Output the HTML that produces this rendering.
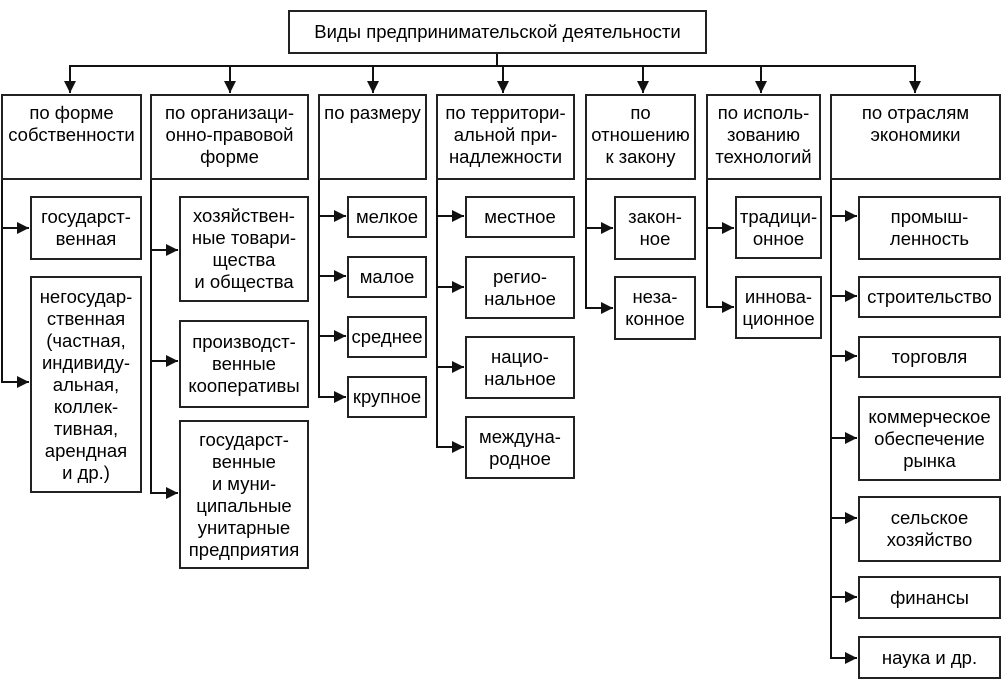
<!DOCTYPE html>
<html><head><meta charset="utf-8"><style>
body{margin:0;background:#fff;width:1002px;height:680px;overflow:hidden;position:relative;font-family:"Liberation Sans",Arial,sans-serif;color:#000}
.b{position:absolute;box-sizing:border-box;border:2px solid #222;display:flex;align-items:center;justify-content:center;text-align:center;font-size:18.5px;line-height:22px;background:#fff;white-space:nowrap}
.h{align-items:flex-start;padding-top:6px}
svg{position:absolute;left:0;top:0}
</style></head><body>
<svg width="1002" height="680">
<defs><marker id="a" markerWidth="13" markerHeight="13" refX="12" refY="6" orient="auto" markerUnits="userSpaceOnUse"><path d="M0,0 L12,6 L0,12 z" fill="#111"/></marker></defs>
<g stroke="#111" stroke-width="2" fill="none">
<line x1="497" y1="53" x2="497" y2="66"/>
<line x1="69" y1="66" x2="916" y2="66"/>
<line x1="70" y1="66" x2="70" y2="93" marker-end="url(#a)"/>
<line x1="230" y1="66" x2="230" y2="93" marker-end="url(#a)"/>
<line x1="373" y1="66" x2="373" y2="93" marker-end="url(#a)"/>
<line x1="503" y1="66" x2="503" y2="93" marker-end="url(#a)"/>
<line x1="643" y1="66" x2="643" y2="93" marker-end="url(#a)"/>
<line x1="761" y1="66" x2="761" y2="93" marker-end="url(#a)"/>
<line x1="915" y1="66" x2="915" y2="93" marker-end="url(#a)"/>
<polyline points="2,179 2,382 29,382" marker-end="url(#a)"/>
<line x1="2" y1="228" x2="29" y2="228" marker-end="url(#a)"/>
<polyline points="151,179 151,493 178,493" marker-end="url(#a)"/>
<line x1="151" y1="250" x2="178" y2="250" marker-end="url(#a)"/>
<line x1="151" y1="361" x2="178" y2="361" marker-end="url(#a)"/>
<polyline points="319,179 319,397 346,397" marker-end="url(#a)"/>
<line x1="319" y1="216" x2="346" y2="216" marker-end="url(#a)"/>
<line x1="319" y1="276" x2="346" y2="276" marker-end="url(#a)"/>
<line x1="319" y1="336" x2="346" y2="336" marker-end="url(#a)"/>
<polyline points="437,179 437,447 464,447" marker-end="url(#a)"/>
<line x1="437" y1="216" x2="464" y2="216" marker-end="url(#a)"/>
<line x1="437" y1="287" x2="464" y2="287" marker-end="url(#a)"/>
<line x1="437" y1="367" x2="464" y2="367" marker-end="url(#a)"/>
<polyline points="586,179 586,308 613,308" marker-end="url(#a)"/>
<line x1="586" y1="228" x2="613" y2="228" marker-end="url(#a)"/>
<polyline points="707,179 707,307 734,307" marker-end="url(#a)"/>
<line x1="707" y1="228" x2="734" y2="228" marker-end="url(#a)"/>
<polyline points="831,179 831,658 857,658" marker-end="url(#a)"/>
<line x1="831" y1="216" x2="857" y2="216" marker-end="url(#a)"/>
<line x1="831" y1="296" x2="857" y2="296" marker-end="url(#a)"/>
<line x1="831" y1="356" x2="857" y2="356" marker-end="url(#a)"/>
<line x1="831" y1="438" x2="857" y2="438" marker-end="url(#a)"/>
<line x1="831" y1="518" x2="857" y2="518" marker-end="url(#a)"/>
<line x1="831" y1="597" x2="857" y2="597" marker-end="url(#a)"/>
</g></svg>

<div class="b" style="left:288px;top:10px;width:419px;height:44px">Виды предпринимательской деятельности</div>

<div class="b h" style="left:1px;top:94px;width:141px;height:86px">по форме<br>собственности</div>
<div class="b h" style="left:150px;top:94px;width:159px;height:86px">по организаци-<br>онно-правовой<br>форме</div>
<div class="b h" style="left:318px;top:94px;width:109px;height:86px">по размеру</div>
<div class="b h" style="left:436px;top:94px;width:139px;height:86px">по территори-<br>альной при-<br>надлежности</div>
<div class="b h" style="left:585px;top:94px;width:111px;height:86px">по<br>отношению<br>к закону</div>
<div class="b h" style="left:706px;top:94px;width:115px;height:86px">по исполь-<br>зованию<br>технологий</div>
<div class="b h" style="left:830px;top:94px;width:171px;height:86px">по отраслям<br>экономики</div>

<div class="b" style="left:30px;top:196px;width:112px;height:64px">государст-<br>венная</div>
<div class="b" style="left:30px;top:276px;width:112px;height:217px">негосудар-<br>ственная<br>(частная,<br>индивиду-<br>альная,<br>коллек-<br>тивная,<br>арендная<br>и др.)</div>

<div class="b" style="left:179px;top:196px;width:130px;height:106px">хозяйствен-<br>ные товари-<br>щества<br>и общества</div>
<div class="b" style="left:179px;top:320px;width:130px;height:88px">производст-<br>венные<br>кооперативы</div>
<div class="b" style="left:179px;top:420px;width:130px;height:149px">государст-<br>венные<br>и муни-<br>ципальные<br>унитарные<br>предприятия</div>

<div class="b" style="left:347px;top:196px;width:80px;height:42px">мелкое</div>
<div class="b" style="left:347px;top:256px;width:80px;height:42px">малое</div>
<div class="b" style="left:347px;top:316px;width:80px;height:42px">среднее</div>
<div class="b" style="left:347px;top:376px;width:80px;height:42px">крупное</div>

<div class="b" style="left:465px;top:196px;width:110px;height:42px">местное</div>
<div class="b" style="left:465px;top:256px;width:110px;height:63px">регио-<br>нальное</div>
<div class="b" style="left:465px;top:336px;width:110px;height:63px">нацио-<br>нальное</div>
<div class="b" style="left:465px;top:416px;width:110px;height:63px">междуна-<br>родное</div>

<div class="b" style="left:614px;top:196px;width:82px;height:64px">закон-<br>ное</div>
<div class="b" style="left:614px;top:276px;width:82px;height:64px">неза-<br>конное</div>

<div class="b" style="left:735px;top:196px;width:87px;height:63px">традици-<br>онное</div>
<div class="b" style="left:735px;top:276px;width:87px;height:63px">иннова-<br>ционное</div>

<div class="b" style="left:858px;top:196px;width:143px;height:64px">промыш-<br>ленность</div>
<div class="b" style="left:858px;top:276px;width:143px;height:42px">строительство</div>
<div class="b" style="left:858px;top:336px;width:143px;height:42px">торговля</div>
<div class="b" style="left:858px;top:396px;width:143px;height:85px">коммерческое<br>обеспечение<br>рынка</div>
<div class="b" style="left:858px;top:496px;width:143px;height:66px">сельское<br>хозяйство</div>
<div class="b" style="left:858px;top:576px;width:143px;height:43px">финансы</div>
<div class="b" style="left:858px;top:636px;width:143px;height:43px">наука и др.</div>
</body></html>
